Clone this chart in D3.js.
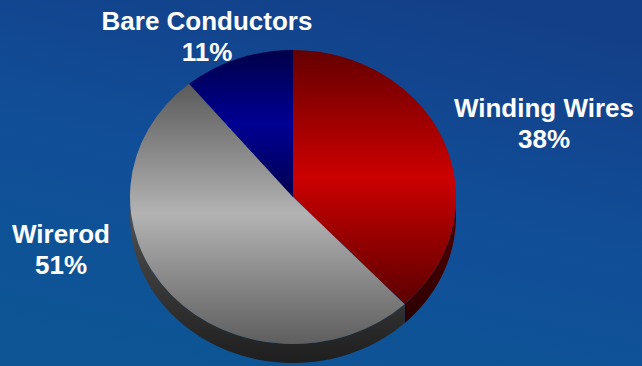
<!DOCTYPE html>
<html>
<head>
<meta charset="utf-8">
<script src="https://cdn.jsdelivr.net/npm/d3@7"></script>
<style>
  html, body { margin: 0; padding: 0; background: #124a92; }
  svg { display: block; }
</style>
</head>
<body>
<div id="chart"></div>
<script>
// Chart data
const categories = ["Winding Wires", "Wirerod", "Bare Conductors"];
const shares = [38, 51, 11];
const percentLabels = ["38%", "51%", "11%"];

const width = 642, height = 366;
const cx = 293, cy = 197, rx = 163, ry = 147, depth = 19;

// label placement relative to the pie centre (first line baseline)
const labelOffset = {
  "Winding Wires": [251, -80],
  "Wirerod": [-232, 46],
  "Bare Conductors": [-86, -167]
};

// gradient stops for top face: [edge, middle, edge]
const topColors = {
  "Winding Wires": ["#640000", "#cc0000", "#5c0000"],
  "Wirerod": ["#5a5a5a", "#b3b3b3", "#5e5e5e"],
  "Bare Conductors": ["#000048", "#000094", "#000050"]
};
const sideColors = {
  "Winding Wires": ["#5a0000", "#2a0000"],
  "Wirerod": ["#555555", "#1e1e1e"],
  "Bare Conductors": ["#000040", "#000020"]
};

const svg = d3.select("#chart")
  .append("svg")
  .attr("width", width)
  .attr("height", height);

const defs = svg.append("defs");

// Background gradient
const bg = defs.append("linearGradient")
  .attr("id", "bg")
  .attr("x1", 0.3).attr("y1", 1).attr("x2", 0.7).attr("y2", 0);
bg.append("stop").attr("offset", 0).attr("stop-color", "#0d5595");
bg.append("stop").attr("offset", 0.5).attr("stop-color", "#114e98");
bg.append("stop").attr("offset", 1).attr("stop-color", "#133f88");

svg.append("rect")
  .attr("width", width)
  .attr("height", height)
  .attr("fill", "url(#bg)");

categories.forEach((c, i) => {
  const g = defs.append("linearGradient")
    .attr("id", "top" + i)
    .attr("x1", 0).attr("y1", 0).attr("x2", 0).attr("y2", 1);
  const cols = topColors[c];
  g.append("stop").attr("offset", 0).attr("stop-color", cols[0]);
  g.append("stop").attr("offset", 0.5).attr("stop-color", cols[1]);
  g.append("stop").attr("offset", 1).attr("stop-color", cols[2]);

  const s = defs.append("linearGradient")
    .attr("id", "side" + i)
    .attr("x1", 0).attr("y1", 0).attr("x2", 0).attr("y2", 1);
  s.append("stop").attr("offset", 0).attr("stop-color", sideColors[c][0]);
  s.append("stop").attr("offset", 1).attr("stop-color", sideColors[c][1]);
});

const pie = d3.pie().sort(null).value(d => d.value);
const arcs = pie(categories.map((c, i) => ({ name: c, value: shares[i], idx: i })));

// point on the top ellipse for a d3 angle (0 = 12 o'clock, clockwise)
const pt = a => [cx + rx * Math.sin(a), cy - ry * Math.cos(a)];

// Side walls (only the front half, from 3 o'clock to 9 o'clock)
const sideG = svg.append("g");
arcs.forEach(d => {
  const a0 = Math.max(d.startAngle, Math.PI / 2);
  const a1 = Math.min(d.endAngle, Math.PI * 1.5);
  if (a1 <= a0) return;
  const steps = d3.range(0, 61).map(k => a0 + (a1 - a0) * k / 60);
  const p = d3.path();
  steps.forEach((a, k) => {
    const [x, y] = pt(a);
    k === 0 ? p.moveTo(x, y) : p.lineTo(x, y);
  });
  steps.slice().reverse().forEach(a => {
    const [x, y] = pt(a);
    p.lineTo(x, y + depth);
  });
  p.closePath();
  sideG.append("path")
    .attr("d", p.toString())
    .attr("fill", `url(#side${d.data.idx})`);
});

// Top faces
const arc = d3.arc().innerRadius(0).outerRadius(ry);
svg.append("g")
  .attr("transform", `translate(${cx},${cy}) scale(${rx / ry},1)`)
  .selectAll("path")
  .data(arcs)
  .enter()
  .append("path")
  .attr("d", arc)
  .attr("fill", d => `url(#top${d.data.idx})`);

// Labels
const labels = svg.append("g")
  .style("font-family", "'Liberation Sans', Arial, sans-serif")
  .style("font-weight", "bold")
  .style("font-size", "26px")
  .attr("fill", "#ffffff")
  .attr("text-anchor", "middle");

arcs.forEach(d => {
  const [dx, dy] = labelOffset[d.data.name];
  const t = labels.append("text")
    .attr("x", cx + dx)
    .attr("y", cy + dy);
  t.append("tspan")
    .attr("x", cx + dx)
    .text(d.data.name);
  t.append("tspan")
    .attr("x", cx + dx)
    .attr("dy", 30.5)
    .text(percentLabels[d.data.idx]);
});
</script>
</body>
</html>
